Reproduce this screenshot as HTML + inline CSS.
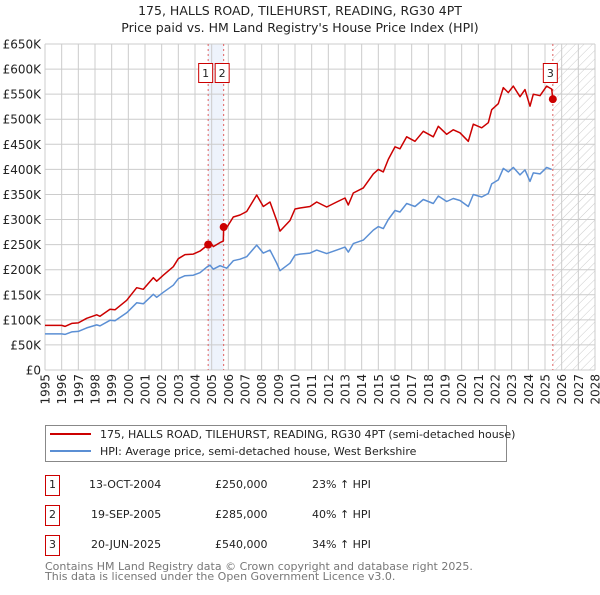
<!DOCTYPE html>
<html><head><meta charset="utf-8"><style>
body{margin:0;background:#fff;font-family:"Liberation Sans","DejaVu Sans",sans-serif}
svg text{font-family:"DejaVu Sans","Liberation Sans",sans-serif}
</style></head><body>
<svg id="c" width="600" height="590" xmlns="http://www.w3.org/2000/svg">
<defs><pattern id="hatch" width="6" height="6" patternUnits="userSpaceOnUse" patternTransform="rotate(45)"><line x1="0" y1="0" x2="0" y2="6" stroke="#ccc" stroke-width="1"/></pattern></defs>
<text x="300" y="15" text-anchor="middle" font-size="12.5" fill="#222">175, HALLS ROAD, TILEHURST, READING, RG30 4PT</text>
<text x="300" y="32" text-anchor="middle" font-size="12.5" fill="#222">Price paid vs. HM Land Registry's House Price Index (HPI)</text>
<g id="grid"></g><g id="marks"></g><g id="axes"></g>
<g>
<rect x="45.5" y="425.5" width="461" height="36" fill="#fff" stroke="#888"/>
<line x1="50" y1="434" x2="91" y2="434" stroke="#cc0000" stroke-width="2"/>
<text x="100" y="438" font-size="11" fill="#222">175, HALLS ROAD, TILEHURST, READING, RG30 4PT (semi-detached house)</text>
<line x1="50" y1="451" x2="91" y2="451" stroke="#5b8fd4" stroke-width="2"/>
<text x="100" y="455" font-size="11" fill="#222">HPI: Average price, semi-detached house, West Berkshire</text>
</g>
<g font-size="11" fill="#222">
<rect x="45.5" y="475.5" width="14" height="20" fill="#fff" stroke="#cc0000"/><text x="52.5" y="488" text-anchor="middle">1</text>
<text x="89" y="488">13-OCT-2004</text><text x="215" y="488">£250,000</text><text x="312" y="488">23% ↑ HPI</text>
<rect x="45.5" y="505.5" width="14" height="20" fill="#fff" stroke="#cc0000"/><text x="52.5" y="518" text-anchor="middle">2</text>
<text x="91" y="518">19-SEP-2005</text><text x="215" y="518">£285,000</text><text x="312" y="518">40% ↑ HPI</text>
<rect x="45.5" y="535.5" width="14" height="20" fill="#fff" stroke="#cc0000"/><text x="52.5" y="548" text-anchor="middle">3</text>
<text x="91" y="548">20-JUN-2025</text><text x="215" y="548">£540,000</text><text x="312" y="548">34% ↑ HPI</text>
</g>
<text x="45" y="570" font-size="11" fill="#777">Contains HM Land Registry data © Crown copyright and database right 2025.</text>
<text x="45" y="580" font-size="11" fill="#777">This data is licensed under the Open Government Licence v3.0.</text>
</svg>
<script>
const hpiYears=[1995,1996,1996.2,1996.6,1997,1997.5,1998.1,1998.3,1998.9,1999.2,1999.9,2000.5,2000.9,2001.5,2001.7,2002.1,2002.7,2003,2003.4,2003.9,2004.3,2004.7,2004.9,2005.1,2005.5,2005.9,2006.3,2006.7,2007.1,2007.7,2008.1,2008.5,2008.9,2009.1,2009.7,2010,2010.3,2010.9,2011.3,2011.9,2012.5,2013,2013.2,2013.5,2014.1,2014.7,2015,2015.3,2015.6,2016,2016.3,2016.7,2017.2,2017.7,2018.3,2018.6,2019.1,2019.5,2019.9,2020.4,2020.7,2021.2,2021.6,2021.8,2022.2,2022.5,2022.8,2023.1,2023.5,2023.8,2024.1,2024.3,2024.7,2025.1,2025.4];
const hpiValues=[72,72,71,76,77,84,90,88,99,98,114,134,132,151,145,155,169,182,188,189,194,205,209,201,208,203,218,221,226,249,233,239,213,198,213,229,231,233,239,232,239,245,235,252,259,279,286,282,300,318,315,332,326,340,332,347,336,342,338,326,350,345,352,371,379,402,395,404,389,399,376,393,391,404,400];
const priceYears=[1995,1996,1996.2,1996.6,1997,1997.5,1998.1,1998.3,1998.9,1999.2,1999.9,2000.5,2000.9,2001.5,2001.7,2002.1,2002.7,2003,2003.4,2003.9,2004.3,2004.79,2004.9,2005.1,2005.5,2005.7,2005.72,2005.9,2006.3,2006.7,2007.1,2007.7,2008.1,2008.5,2008.9,2009.1,2009.7,2010,2010.3,2010.9,2011.3,2011.9,2012.5,2013,2013.2,2013.5,2014.1,2014.7,2015,2015.3,2015.6,2016,2016.3,2016.7,2017.2,2017.7,2018.3,2018.6,2019.1,2019.5,2019.9,2020.4,2020.7,2021.2,2021.6,2021.8,2022.2,2022.5,2022.8,2023.1,2023.5,2023.8,2024.1,2024.3,2024.7,2025.1,2025.4,2025.47];
const priceValues=[89,89,87,93,94,103,110,107,121,120,139,164,161,184,177,189,206,222,230,231,237,250,256,246,254,257,285,284,305,309,316,349,326,335,298,277,298,321,323,326,335,325,335,343,329,353,363,391,400,395,420,445,441,465,456,476,465,486,470,479,473,456,490,483,493,519,531,563,553,566,545,559,526,550,547,566,560,540];
const saleYears=[2004.79,2005.72,2025.47];
const saleValues=[250,285,540];
const saleLabels=["1","2","3"];
const yTicks=[0,50,100,150,200,250,300,350,400,450,500,550,600,650];
const yTickLabels=["£0","£50K","£100K","£150K","£200K","£250K","£300K","£350K","£400K","£450K","£500K","£550K","£600K","£650K"];
const xTicks=[1995,1996,1997,1998,1999,2000,2001,2002,2003,2004,2005,2006,2007,2008,2009,2010,2011,2012,2013,2014,2015,2016,2017,2018,2019,2020,2021,2022,2023,2024,2025,2026,2027,2028];

const NS="http://www.w3.org/2000/svg";
const X0=45,X1=595,Y0=370,Y1=44,xmin=1995,xmax=2028,ymax=650;
const sx=v=>X0+(v-xmin)/(xmax-xmin)*(X1-X0);
const sy=v=>Y0-v/ymax*(Y0-Y1);
function mk(t,a,p){const e=document.createElementNS(NS,t);for(const k in a)e.setAttribute(k,a[k]);p.appendChild(e);return e;}
const grid=document.getElementById('grid'),marks=document.getElementById('marks'),axes=document.getElementById('axes');
let band=mk('rect',{x:sx(saleYears[0]),y:Y1,width:sx(saleYears[1])-sx(saleYears[0]),height:Y0-Y1,fill:'#eef3fc'},grid);


let fut=mk('rect',{x:sx(saleYears[2]),y:Y1,width:X1-sx(saleYears[2]),height:Y0-Y1,fill:'url(#hatch)'},grid);


yTicks.forEach((v,i)=>{
  mk('line',{x1:X0,x2:X1,y1:sy(v),y2:sy(v),stroke:'#ccc','stroke-width':1},grid);
  const t=mk('text',{x:X0-4,y:sy(v)+4.5,'text-anchor':'end','font-size':12,fill:'#222'},axes);
  t.textContent=yTickLabels[i];
  
  
});
xTicks.forEach(v=>{
  mk('line',{x1:sx(v),x2:sx(v),y1:Y1,y2:Y0,stroke:'#ccc','stroke-width':1},grid);
  const t=mk('text',{x:0,y:0,'text-anchor':'end','font-size':12,fill:'#222',transform:`translate(${sx(v)+4.5},${Y0+4}) rotate(-90)`},axes);
  t.textContent=v;
  
  
});
saleYears.forEach((v,i)=>{
  const l=mk('line',{x1:sx(v),x2:sx(v),y1:Y1,y2:Y0,stroke:'#e06060','stroke-width':1,'stroke-dasharray':'2,3'},marks);
  
  
});
function path(xs,ys,col,name){
  const d=xs.map((x,i)=>(i?'L':'M')+sx(x).toFixed(1)+','+sy(ys[i]).toFixed(1)).join('');
  const p=mk('path',{d:d,fill:'none',stroke:col,'stroke-width':1.5,'stroke-linejoin':'round'},marks);
  
  
}
path(hpiYears,hpiValues,'#5b8fd4','hpi-line');
path(priceYears,priceValues,'#cc0000','price-paid-line');
saleYears.forEach((v,i)=>{
  const c=mk('circle',{cx:sx(v),cy:sy(saleValues[i]),r:4,fill:'#cc0000'},marks);
  
  
  const bx=(i===0)?sx(v)-10:(i===1?sx(v)-9:sx(v)-10);
  const r=mk('rect',{x:bx+0.5,y:63.5,width:14,height:19,fill:'#fff',stroke:'#cc0000'},marks);
  
  
  const t=mk('text',{x:bx+7.5,y:77,'text-anchor':'middle','font-size':11,fill:'#222'},marks);
  t.textContent=saleLabels[i];
  
  
});
</script>
</body></html>
